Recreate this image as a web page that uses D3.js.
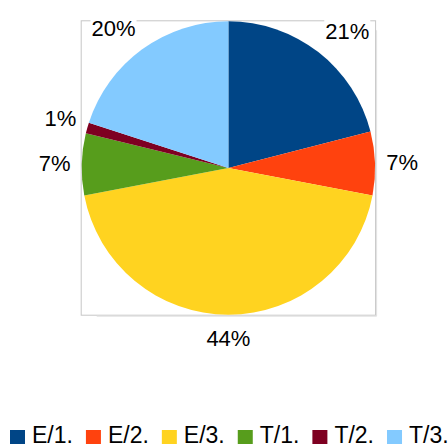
<!DOCTYPE html>
<html>
<head>
<meta charset="utf-8">
<script src="https://cdn.jsdelivr.net/npm/d3@7"></script>
<style>
  body { margin: 0; background: #fff; }
  text { font-family: "Liberation Sans", Arial, sans-serif; fill: #000; }
</style>
</head>
<body>
<svg id="pie"></svg>
<script>
const categories = ['E/1.', 'E/2.', 'E/3.', 'T/1.', 'T/2.', 'T/3.'];
const values = [21, 7, 44, 6.8, 1.2, 20];
const colors = ['#004586', '#ff420e', '#ffd320', '#579d1c', '#7e0021', '#83caff'];

const w = 448;
const h = 445;

const svg = d3.select('#pie')
    .attr('width', w)
    .attr('height', h);

const cx = 228.4, cy = 168, r = 146.7;
const labelR = 158;
const total = d3.sum(values);

const data = categories.map((c, i) => ({cat: c, value: values[i], color: colors[i]}));

// frame round the pie
const frame = svg.append('g');
frame.append('rect')
    .attr('x', cx - r - 0.5).attr('y', cy - r - 0.5)
    .attr('width', 2 * r + 1).attr('height', 2 * r + 1)
    .attr('fill', 'none').attr('stroke', '#c6c6c6').attr('stroke-width', 1);
frame.append('path')
    .attr('d', `M${cx + r + 1.5},${cy - r + 9} V${cy + r + 1.5} H${cx - r + 15}`)
    .attr('fill', 'none').attr('stroke', '#e0e0e0').attr('stroke-width', 1);

const pie = d3.pie().sort(null).value(d => d.value);
const arc = d3.arc().innerRadius(0).outerRadius(r);

const g = svg.append('g')
    .attr('transform', `translate(${cx}, ${cy})`);

const arcs = pie(data);

g.selectAll('path.slice').data(arcs)
    .enter().append('path')
        .attr('class', 'slice')
        .attr('d', arc)
        .attr('fill', d => d.data.color);

// labels outside, box touching a circle of radius labelR
const fs = 22;
const asc = 0.905 * fs, desc = 0.212 * fs;
const clamp = v => Math.max(-1, Math.min(1, v));

arcs.forEach(d => {
    const a = (d.startAngle + d.endAngle) / 2;
    const ux = Math.sin(a), uy = -Math.cos(a);
    const px = labelR * ux, py = labelR * uy;
    const lg = g.append('g');
    const t = lg.append('text')
        .attr('font-size', fs)
        .text(Math.round(d.data.value / total * 100) + '%');
    const tw = t.node().getComputedTextLength();
    const th = asc + desc;
    const bx = px + (tw / 2) * clamp(ux / 0.5) - tw / 2;
    const by = py + (th / 2) * clamp(uy / 0.5) - th / 2;
    lg.insert('rect', 'text')
        .attr('x', bx - 1).attr('y', by)
        .attr('width', tw + 2).attr('height', th)
        .attr('fill', '#fff');
    t.attr('x', bx).attr('y', by + asc);
});

// legend
const lfs = 23;
const legend = svg.append('g');
let lx = 10;
data.forEach(d => {
    legend.append('rect')
        .attr('x', lx).attr('y', 430)
        .attr('width', 15).attr('height', 14)
        .attr('fill', d.color);
    const t = legend.append('text')
        .attr('x', lx + 22).attr('y', 443.3)
        .attr('font-size', lfs)
        .text(d.cat);
    lx += 22 + t.node().getComputedTextLength() + 13;
});
</script>
</body>
</html>
